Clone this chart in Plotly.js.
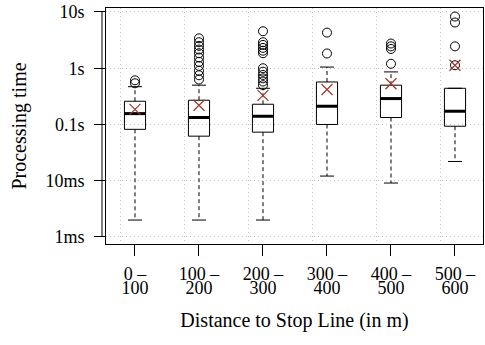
<!DOCTYPE html>
<html>
<head>
<meta charset="utf-8">
<script src="https://cdn.plot.ly/plotly-3.0.1.min.js"></script>
<style>html,body{margin:0;padding:0;background:#fff;}#chart{width:485px;height:345px;}</style>
</head>
<body>
<div id="chart"></div>
<script>
// ---- data (seconds) ----
const categoryTop = ['0 –', '100 –', '200 –', '300 –', '400 –', '500 –'];
const categoryBottom = ['100', '200', '300', '400', '500', '600'];
const lowerWhisker = [0.0020, 0.0020, 0.0020, 0.0121, 0.0091, 0.0220];
const q1 = [0.082, 0.062, 0.073, 0.100, 0.133, 0.093];
const median = [0.156, 0.133, 0.140, 0.211, 0.289, 0.172];
const q3 = [0.259, 0.270, 0.229, 0.570, 0.500, 0.440];
const upperWhisker = [0.47, 0.50, 0.44, 1.05, 0.86, 0.44];
const means = [0.186, 0.220, 0.330, 0.418, 0.530, 1.13];
const outliers = [
  [0.54, 0.61],
  [0.63, 0.75, 0.90, 1.10, 1.30, 1.55, 1.85, 2.15, 2.50, 2.90, 3.40],
  [0.50, 0.58, 0.66, 0.76, 0.87, 1.00, 1.85, 2.05, 2.30, 2.60, 2.90, 4.55],
  [1.83, 4.30],
  [1.20, 2.20, 2.45, 2.75],
  [1.13, 2.45, 6.50, 8.30]
];
const yTickVals = [0.001, 0.01, 0.1, 1, 10];
const yTickText = ['1ms', '10ms', '0.1s', '1s', '10s'];

// ---- styling ----
const BOX_W = 0.33;
const GRID_OFFSET = -0.234;
const FONT = 'Liberation Serif';
const FS_TICK = 18;
const FS_TITLE = 20;
const pos = categoryTop.map((_, i) => i);

const wx = [], wy = [];
pos.forEach((p, i) => {
  wx.push(p, p, null, p, p, null);
  wy.push(q3[i], upperWhisker[i], null, q1[i], lowerWhisker[i], null);
});
const cx = [], cy = [];
pos.forEach((p, i) => { cx.push(p, p); cy.push(upperWhisker[i], lowerWhisker[i]); });
const mx = [], my = [];
pos.forEach((p, i) => { mx.push(p - BOX_W / 2, p + BOX_W / 2, null); my.push(median[i], median[i], null); });
const ox = [], oy = [];
outliers.forEach((arr, i) => arr.forEach(v => { ox.push(pos[i]); oy.push(v); }));

const traces = [
  { type: 'box', x: pos, q1: q1, median: median, q3: q3, lowerfence: q1, upperfence: q3,
    width: BOX_W, whiskerwidth: 0, boxpoints: false, fillcolor: 'rgba(0,0,0,0)',
    line: { color: '#000', width: 1 }, hoverinfo: 'skip', showlegend: false },
  { type: 'scatter', mode: 'lines', x: wx, y: wy, line: { color: '#000', width: 1, dash: '4px,3px' },
    hoverinfo: 'skip', showlegend: false },
  { type: 'scatter', mode: 'markers', x: cx, y: cy,
    marker: { symbol: 'line-ew', size: 10, line: { color: '#000', width: 1 } }, hoverinfo: 'skip', showlegend: false },
  { type: 'scatter', mode: 'lines', x: mx, y: my, line: { color: '#000', width: 3 }, hoverinfo: 'skip', showlegend: false },
  { type: 'scatter', mode: 'markers', x: ox, y: oy,
    marker: { symbol: 'circle-open', size: 9, color: '#000', line: { color: '#000', width: 1 } }, hoverinfo: 'skip', showlegend: false },
  { type: 'scatter', mode: 'markers', x: pos, y: means,
    marker: { symbol: 'x-thin-open', size: 11, color: '#a0392b', line: { color: '#a0392b', width: 1.2 } }, hoverinfo: 'skip', showlegend: false },
  { type: 'scatter', x: [], y: [], xaxis: 'x2', showlegend: false, hoverinfo: 'skip' },
  { type: 'scatter', x: [], y: [], xaxis: 'x3', showlegend: false, hoverinfo: 'skip' }
];

const W = 485, H = 345, L = 106, R = 2, T = 8, B = 101;
const plotW = W - L - R;
const xLeft = -0.453;
const xRange = [xLeft, xLeft + plotW / 64];
const tickFont = { family: FONT, size: FS_TICK, color: '#000' };
const titleFont = { family: FONT, size: FS_TITLE, color: '#000' };
const GRIDC = '#c4c4c4';

const layout = {
  width: W, height: H,
  margin: { l: L, r: R, t: T, b: B },
  paper_bgcolor: '#fff', plot_bgcolor: '#fff',
  font: titleFont,
  showlegend: false,
  xaxis: {
    range: xRange, tickmode: 'array', tickvals: pos, ticktext: categoryTop,
    ticks: 'outside', ticklen: 11, tickcolor: '#000', tickwidth: 1,
    showgrid: false, zeroline: false, showline: true, mirror: true, linecolor: '#000', linewidth: 1,
    tickfont: tickFont, ticklabelstandoff: 2,
    title: { text: 'Distance to Stop Line (in m)', font: titleFont, standoff: 30 }
  },
  xaxis2: {
    overlaying: 'x', anchor: 'y', side: 'bottom', range: xRange, tickmode: 'array', tickvals: pos,
    ticktext: categoryBottom, ticks: 'outside', ticklen: 23, tickcolor: 'rgba(0,0,0,0)',
    showgrid: false, zeroline: false, showline: false,
    tickfont: tickFont, ticklabelstandoff: 4
  },
  xaxis3: {
    overlaying: 'x', anchor: 'y', side: 'bottom', range: xRange, tickmode: 'array',
    tickvals: pos.map(p => p + GRID_OFFSET), showticklabels: false, ticks: '',
    showgrid: true, gridcolor: GRIDC, griddash: '1px,3px', gridwidth: 1, zeroline: false, showline: false
  },
  yaxis: {
    type: 'log', range: [-3.125, 1.071], tickmode: 'array', tickvals: yTickVals, ticktext: yTickText,
    ticks: 'outside', ticklen: 11, tickcolor: '#000', tickwidth: 1,
    showgrid: true, gridcolor: GRIDC, griddash: '1px,3px', gridwidth: 1,
    zeroline: false, showline: true, mirror: true, linecolor: '#000', linewidth: 1,
    tickfont: tickFont, ticklabelstandoff: 6,
    title: { text: 'Processing time', font: titleFont, standoff: 13 }
  },
  shapes: [
    { type: 'line', xref: 'paper', yref: 'y', x0: -4 / plotW, x1: -4 / plotW,
      y0: yTickVals[0], y1: yTickVals[yTickVals.length - 1], line: { color: '#000', width: 1 } }
  ]
};

Plotly.newPlot('chart', traces, layout, { staticPlot: true, displayModeBar: false });
</script>
</body>
</html>
